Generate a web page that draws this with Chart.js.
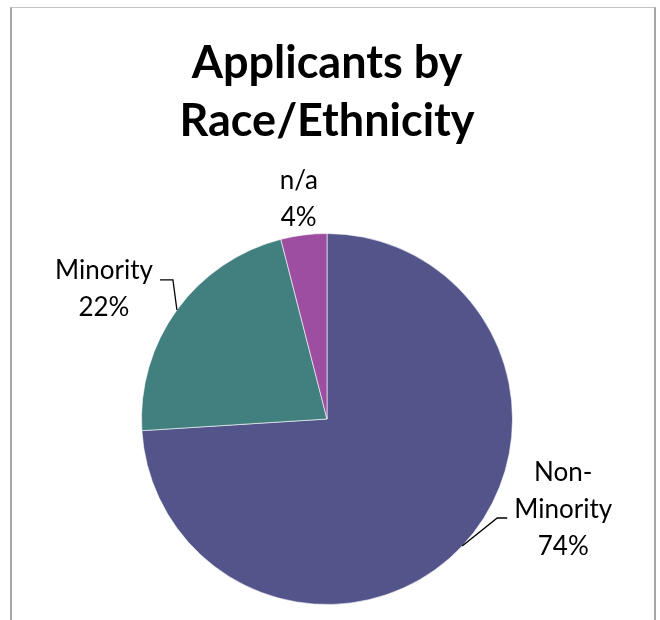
<!DOCTYPE html>
<html>
<head>
<meta charset="utf-8">
<script src="https://cdn.jsdelivr.net/npm/chart.js@4.4.1/dist/chart.umd.min.js"></script>
<style>
  html, body { margin: 0; padding: 0; background: #fff; }
  #wrap { position: relative; width: 660px; height: 620px; overflow: hidden; }
  #frame { position: absolute; left: 10px; top: 7px; width: 642px; height: 640px;
           border-left: 2px solid #a6a6a6; border-right: 2px solid #a6a6a6; border-top: 1px solid #c4c4c4; }
  canvas { position: absolute; left: 0; top: 0; }
</style>
</head>
<body>
<div id="wrap">
  <div id="frame"></div>
  <canvas id="c" width="660" height="620"></canvas>
</div>
<script>
const titleLines = ['Applicants by', 'Race/Ethnicity'];
const categories = ['Non-Minority', 'Minority', 'n/a'];
const labelLines = [['Non-', 'Minority', '74%'], ['Minority', '22%'], ['n/a', '4%']];
const values = [74, 22, 4];
const colors = ['#53548A', '#41807F', '#9D4EA1'];

// leader/label layout per slice (offsets relative to the slice's outer-edge midpoint)
const labelLayout = [
  { elbow: [35, -28], end: [45, -28], text: [101, -36] },
  { elbow: [-4, -30], end: [-17, -30], text: [-73, -21] },
  { elbow: null, end: [0, 0], text: [-5, -36] }
];
const LABEL_FONT = '26px Lato, "Open Sans", sans-serif';
const LINE_H = 37;

const pieLabels = {
  id: 'pieLabels',
  afterDatasetsDraw(chart) {
    const ctx = chart.ctx;
    const meta = chart.getDatasetMeta(0);
    meta.data.forEach((arc, i) => {
      const p = arc.getProps(['x', 'y', 'startAngle', 'endAngle', 'outerRadius'], true);
      const mid = (p.startAngle + p.endAngle) / 2;
      const ex = p.x + Math.cos(mid) * p.outerRadius;
      const ey = p.y + Math.sin(mid) * p.outerRadius;
      const L = labelLayout[i];
      ctx.save();
      if (L.elbow) {
        ctx.strokeStyle = '#000';
        ctx.lineWidth = 1.3;
        ctx.beginPath();
        ctx.moveTo(ex, ey);
        ctx.lineTo(ex + L.elbow[0], ey + L.elbow[1]);
        ctx.lineTo(ex + L.end[0], ey + L.end[1]);
        ctx.stroke();
      }
      ctx.fillStyle = '#000';
      ctx.font = LABEL_FONT;
      ctx.textAlign = 'center';
      ctx.textBaseline = 'middle';
      const lines = labelLines[i];
      const cx = ex + L.text[0];
      const cy = ey + L.text[1];
      const top = cy - (lines.length - 1) * LINE_H / 2;
      lines.forEach((t, k) => ctx.fillText(t, cx, top + k * LINE_H));
      ctx.restore();
    });
  }
};

new Chart(document.getElementById('c'), {
  type: 'pie',
  data: {
    labels: categories,
    datasets: [{
      data: values,
      backgroundColor: colors,
      borderColor: 'rgba(255,255,255,0.6)',
      borderWidth: 1
    }]
  },
  options: {
    responsive: false,
    animation: false,
    layout: { padding: { left: 141, right: 147, top: 34, bottom: 15 } },
    plugins: {
      legend: { display: false },
      tooltip: { enabled: false },
      title: {
        display: true,
        text: titleLines,
        color: '#000',
        font: { family: 'Lato, "Open Sans", sans-serif', size: 45, weight: 'bold', lineHeight: 1.3 },
        padding: { top: 0, bottom: 82 }
      }
    }
  },
  plugins: [pieLabels]
});
</script>
</body>
</html>
